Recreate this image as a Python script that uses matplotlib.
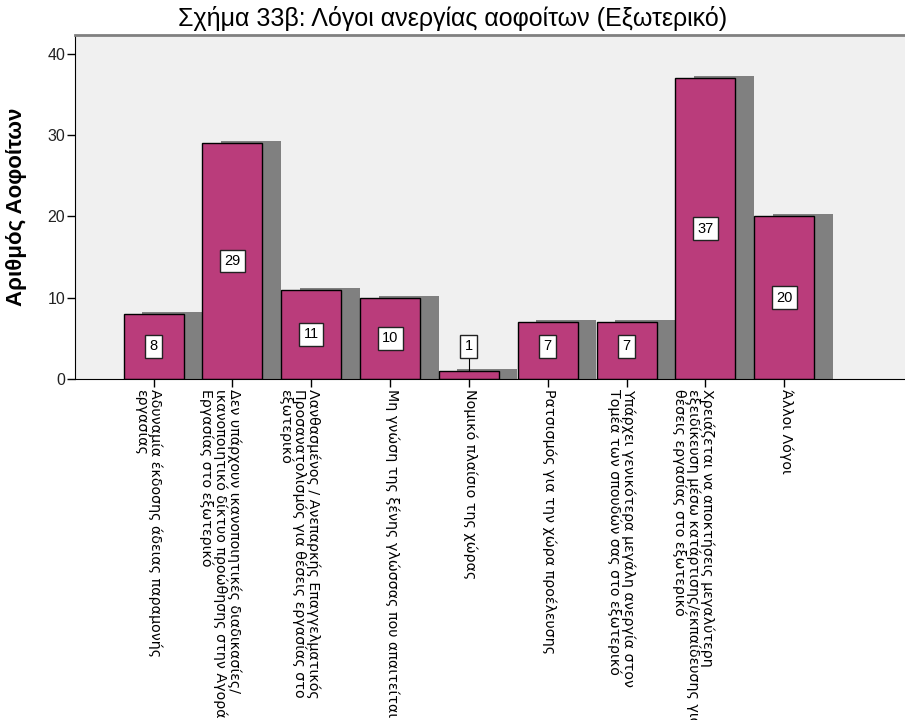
import matplotlib
matplotlib.use("Agg")
import matplotlib.pyplot as plt
import matplotlib.transforms as mtransforms

categories = [
    "Αδυναμία έκδοσης άδειας παραμονής\nεργασίας",
    "Δεν υπάρχουν ικανοποιητικές διαδικασίες/\nικανοποιητικό δίκτυο προώθησης στην Αγορά\nΕργασίας στο εξωτερικό",
    "Λανθασμένος / Ανεπαρκής Επαγγελματικός\nΠροσανατολισμός για θέσεις εργασίας στο\nεξωτερικό",
    "Μη γνώση της ξένης γλώσσας που απαιτείται",
    "Νομικό πλαίσιο της χώρας",
    "Ρατσισμός για την χώρα προέλευσης",
    "Υπάρχει γενικότερα μεγάλη ανεργία στον\nΤομέα των σπουδών σας στο εξωτερικό",
    "Χρειάζεται να αποκτήσεις μεγαλύτερη\nεξειδίκευση μέσω κατάρτισης/εκπαίδευσης για\nθέσεις εργασίας στο εξωτερικό",
    "Άλλοι Λόγοι",
]
counts = [8, 29, 11, 10, 1, 7, 7, 37, 20]

bar_color = "#BA3C7B"
shadow_color = "#808080"

fig = plt.figure(figsize=(9.05, 7.2), dpi=100)
ax = fig.add_axes([0.0829, 0.4736, 0.93, 0.4778])
ax.set_facecolor("#F0F0F0")

x = list(range(len(counts)))
width = 0.76
# drop shadow behind each bar
ax.bar([i + 0.235 for i in x], [c + 0.25 for c in counts], width=width,
       color=shadow_color, edgecolor="none", zorder=1)
ax.bar(x, counts, width=width, color=bar_color, edgecolor="black",
       linewidth=1.0, zorder=2)

for i, c in zip(x, counts):
    ypos = max(c / 2, 4)
    if ypos > c:
        ax.plot([i, i], [c, ypos - 1.3], color="black", lw=0.8, zorder=3)
    ax.text(i, ypos, str(c), ha="center", va="center", fontsize=10.5,
            family="Liberation Sans", zorder=4,
            bbox=dict(boxstyle="square,pad=0.3", fc="white", ec="#222222", lw=1.0))

ax.set_xlim(-0.997, 9.68)
ax.set_ylim(0, 42.3)
ax.set_yticks([0, 10, 20, 30, 40])
ax.tick_params(axis="y", labelsize=11.5, length=6, width=1, pad=1)
for lab in ax.get_yticklabels():
    lab.set_family("Liberation Sans")
    lab.set_color("#222222")
ax.set_xticks(x)
ax.set_xticklabels(categories, rotation=-90, ha="right", va="top",
                   multialignment="left", fontsize=10.3, linespacing=0.95,
                   family="DejaVu Sans")
ax.tick_params(axis="x", length=6, width=1, pad=1)
offset = mtransforms.ScaledTranslation(9 / 100, 0, fig.dpi_scale_trans)
for lab in ax.get_xticklabels():
    lab.set_transform(lab.get_transform() + offset)

ax.spines["right"].set_visible(False)
ax.spines["top"].set_color("#808080")
ax.spines["top"].set_linewidth(2)

ax.set_ylabel("Αριθμός Αοφοίτων", fontsize=16, fontweight="bold",
              family="Liberation Sans")
ax.yaxis.set_label_coords(-0.057, 0.5)
fig.text(0.5, 0.974, "Σχήμα 33β: Λόγοι ανεργίας αοφοίτων (Εξωτερικό)",
         ha="center", va="center", fontsize=18, family="Liberation Sans")

fig.savefig("out.png", dpi=100)
